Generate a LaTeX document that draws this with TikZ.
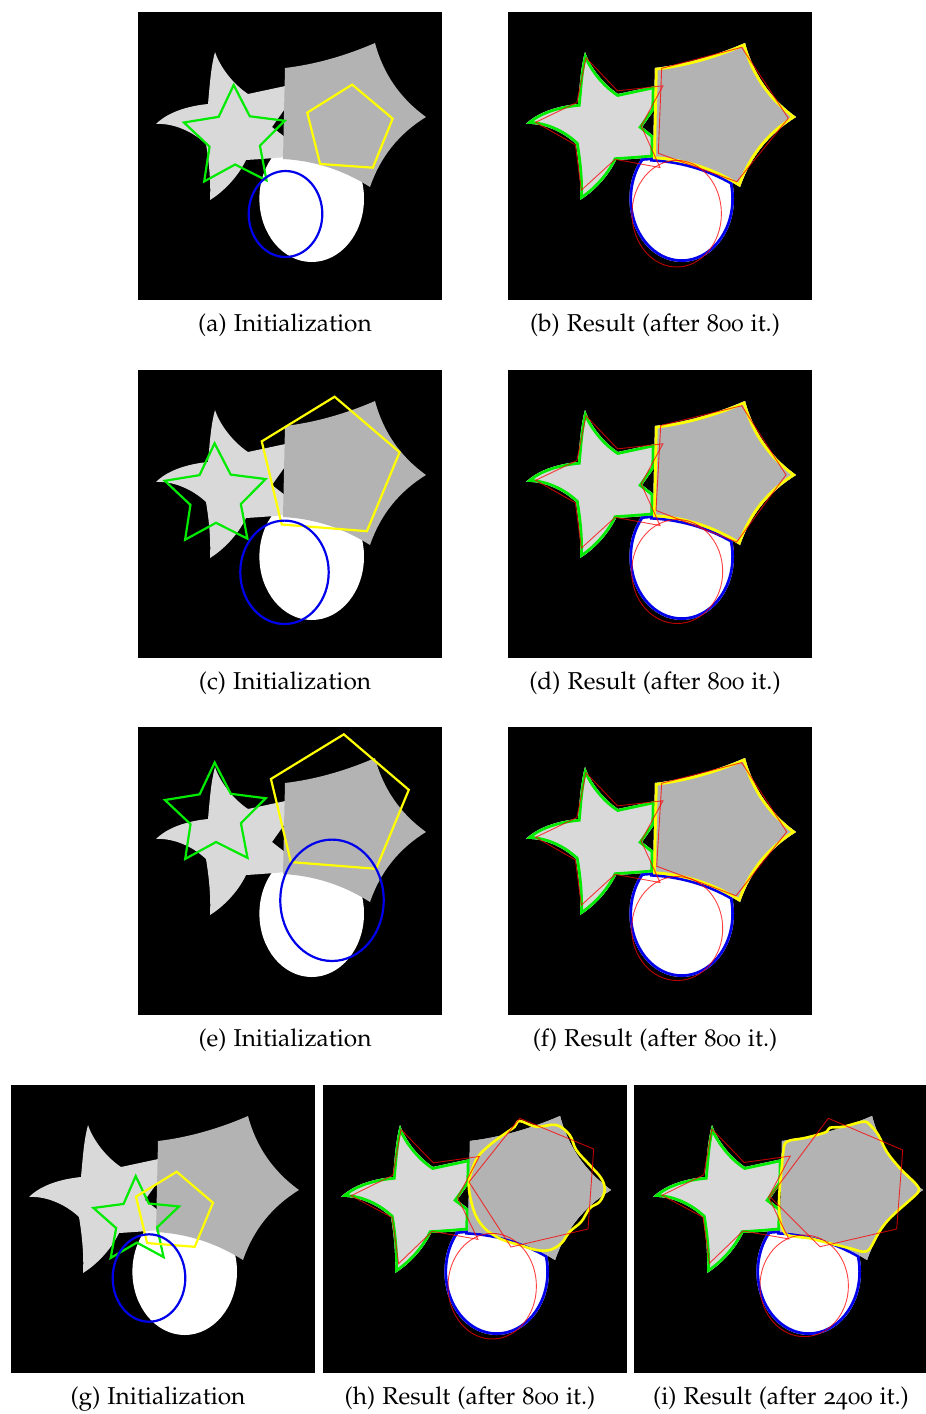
\documentclass[tikz,border=0pt]{standalone}
\usepackage[T1]{fontenc}
\usepackage[osf]{mathpazo}
\definecolor{starfill}{RGB}{217,217,217}
\definecolor{pentfill}{RGB}{179,179,179}
\definecolor{cgreen}{RGB}{0,235,0}
\definecolor{cyellow}{RGB}{255,255,0}
\definecolor{cblue}{RGB}{0,0,235}
\definecolor{cred}{RGB}{255,0,0}

% test image: twisted star, concave pentagon, white oval (pixel units, y down)
\newcommand\starpath{(77,40) .. controls (82,55) and (95,72) .. (110,82) -- (166,70) -- (134,115) -- (170,143) .. controls (150,145) and (125,147) .. (108,148) .. controls (100,165) and (85,180) .. (72,188) .. controls (73,170) and (71,150) .. (68,132) .. controls (52,117) and (32,111) .. (18,112) .. controls (30,100) and (50,94) .. (70,92) .. controls (72,70) and (73,55) .. cycle}
\newcommand\pentpath{(147,56) .. controls (177,52.4) and (207,44) .. (237,31) .. controls (245.2,61.8) and (262.2,86.4) .. (288,105) .. controls (260.9,121.6) and (242.3,145) .. (232,175) .. controls (205.4,158.1) and (176.4,148.7) .. (145,147) -- cycle}
\newcommand\ovalpath{(173.7,186.7) ellipse [x radius=52.3, y radius=63.3]}

\newcommand\scene[1][0]{%
  \fill[black] (#1,0) rectangle (304,288);
  \fill[white] \ovalpath;
  \fill[starfill] \starpath;
  \fill[pentfill] \pentpath;}

% regular star / pentagon outlines: style, cx, cy, R, (r,) rotation
\newcommand\starline[6]{\draw[#1] plot[samples at={0,1,...,9}, variable=\k]
  ({#2+ifthenelse(mod(\k,2)==0,#4,#5)*cos(#6+36*\k)},{#3-ifthenelse(mod(\k,2)==0,#4,#5)*sin(#6+36*\k)}) -- cycle;}
\newcommand\pentline[5]{\draw[#1] plot[samples at={0,1,...,4}, variable=\k]
  ({#2+#4*cos(#5+72*\k)},{#3-#4*sin(#5+72*\k)}) -- cycle;}

% segmentation contours: bands just inside each visible region
\newcommand\blueband{%
  \begin{scope}
    \clip \ovalpath;
    \draw[cblue, line width=5.5pt] \ovalpath;
    \draw[cblue, line width=5.5pt] \starpath;
    \draw[cblue, line width=5.5pt] \pentpath;
  \end{scope}
  \fill[starfill] \starpath;
  \fill[pentfill] \pentpath;}
\newcommand\greenband{%
  \begin{scope}
    \clip \starpath;
    \draw[cgreen, line width=5.5pt] \starpath;
    \draw[cgreen, line width=5.5pt] \pentpath;
  \end{scope}
  \fill[pentfill] \pentpath;}
\newcommand\yellowband{%
  \begin{scope}
    \clip \pentpath;
    \draw[cyellow, line width=5.5pt] \pentpath;
  \end{scope}}

\begin{document}
\begin{tikzpicture}[x=1pt,y=-1pt,
  redline/.style={draw=cred, draw opacity=0.75, line width=0.9pt, line join=miter},
  initline/.style={line width=2.2pt, line join=miter},
  wavy/.style={draw=cyellow, line width=2.6pt},
  captext/.style={anchor=base, inner sep=0pt, font=\fontsize{24.4}{29}\selectfont}]
\useasboundingbox (0,0) rectangle (926,1414);
\fill[white] (0,0) rectangle (926,1414);

% ---------- (a)
\begin{scope}[shift={(138,12)}]
  \scene
  \starline{initline,draw=cgreen}{96.6}{126}{53}{26.5}{91}
  \pentline{initline,draw=cyellow}{211}{117.5}{45}{86}
  \draw[initline,cblue] (147.5,202) ellipse [x radius=36.8, y radius=43];
\end{scope}
% ---------- (b)
\begin{scope}[shift={(508,12)}]
  \scene
  \blueband \greenband \yellowband
  \starline{redline}{97.2}{112.7}{69.6}{36}{106}
  \draw[redline] (153.7,56.3) -- (233.7,35.3) -- (280.3,106.3) -- (228.7,169.7) -- (150.3,141.3) -- cycle;
  \draw[redline] (168.7,201.7) ellipse [x radius=44.7, y radius=53.3];
\end{scope}
% ---------- (c)
\begin{scope}[shift={(138,370)}]
  \scene
  \starline{initline,draw=cgreen}{77.5}{126.3}{53}{26.5}{91}
  \pentline{initline,draw=cyellow}{190.9}{99.2}{72.7}{85.5}
  \draw[initline,cblue] (146.5,202.3) ellipse [x radius=44.2, y radius=51.7];
\end{scope}
% ---------- (d)
\begin{scope}[shift={(508,370)}]
  \scene
  \blueband \greenband \yellowband
  \starline{redline}{97.2}{112.7}{69.6}{36}{106}
  \draw[redline] (152.7,55.5) -- (233.7,35.7) -- (278,104.9) -- (228.7,172) -- (148,140.4) -- cycle;
  \draw[redline] (169.2,201.5) ellipse [x radius=45.5, y radius=52];
\end{scope}
% ---------- (e)
\begin{scope}[shift={(138,727)}]
  \scene
  \starline{initline,draw=cgreen}{77.6}{88.5}{53}{26.5}{91}
  \pentline{initline,draw=cyellow}{200.1}{79.8}{72.7}{85.5}
  \draw[initline,cblue] (194,173.3) ellipse [x radius=51.7, y radius=60.7];
\end{scope}
% ---------- (f)
\begin{scope}[shift={(508,727)}]
  \scene
  \blueband \greenband \yellowband
  \starline{redline}{97.2}{112.7}{69.6}{36}{106}
  \draw[redline] (153.7,56.2) -- (233.7,35.6) -- (278.7,104.8) -- (228,168.8) -- (148.7,139.2) -- cycle;
  \draw[redline] (169.2,201.5) ellipse [x radius=45.5, y radius=52];
\end{scope}
% ---------- (g)
\begin{scope}[shift={(11,1085)}]
  \scene
  \starline{initline,draw=cgreen}{125.5}{136.1}{45}{21.5}{91}
  \pentline{initline,draw=cyellow}{162.5}{127.2}{40.6}{85.5}
  \draw[initline,cblue] (138,193) ellipse [x radius=36.3, y radius=43.7];
\end{scope}
% ---------- (h)
\begin{scope}[shift={(323,1085)}]
  \scene
  \blueband \greenband
  \draw[wavy] plot[smooth cycle, tension=0.6] coordinates {(196.7,36) (213.3,41.7) (233.3,40) (246.7,50) (253.3,65) (266.7,80) (278.3,93.3) (281.7,105) (276.7,116.7) (266.7,123.3) (258.3,136.7) (246.7,146.7) (238.3,158.3) (226.7,165) (213.3,165) (196.7,160) (185,156.7) (173.3,151.7) (161.7,143.3) (153.3,131.7) (148.3,116.7) (145.7,100) (148.3,86.7) (155,71.7) (166.7,60) (180,50) (191.7,41.7)};
  \starline{redline}{98.6}{111.9}{70.5}{36}{107}
  \draw[redline] (196.7,33.3) -- (270.7,64) -- (265,144) -- (188,162) -- (146,97) -- cycle;
  \draw[redline] (169.2,201.2) ellipse [x radius=44.2, y radius=52.8];
\end{scope}
% ---------- (i), cut at the right border
\begin{scope}[shift={(635,1085)}]
  \clip (-1,0) rectangle (291,288);
  \scene[-1]
  \blueband \greenband
  \draw[wavy] plot[smooth cycle, tension=0.6] coordinates {(148.3,66.7) (151.7,56.7) (168.3,53.3) (181.7,50) (191.7,46.7) (195,42.7) (208.3,41.7) (228.3,36.7) (235,40) (243.3,50) (251.7,66.7) (265,83.3) (281.7,100) (283.3,106.7) (275,115) (261.7,126.7) (251.7,136.7) (243.3,148.3) (235,163.3) (228.3,166.7) (215,163.3) (201.7,160) (188.3,156.7) (175,153.3) (161.7,151.7) (150,148.3) (145,133.3) (144,116.7) (145,100) (146.7,83.3)};
  \starline{redline}{97.5}{111.5}{70.5}{36}{107}
  \draw[redline] (193.3,33.3) -- (267.7,65) -- (261.7,144) -- (185,161.7) -- (135,111.7) -- cycle;
  \draw[redline] (169.2,200.8) ellipse [x radius=44.2, y radius=50.8];
\end{scope}

% ---------- captions
\node[captext] (capa) at (285,331.5) {(a) Initialization};
\node[captext] (capb) at (655,331.5) {(b) Result (after 800 it.)};
\node[captext] (capc) at (285,689.5) {(c) Initialization};
\node[captext] (capd) at (655,689.5) {(d) Result (after 800 it.)};
\node[captext] (cape) at (285,1046.5) {(e) Initialization};
\node[captext] (capf) at (655,1046.5) {(f) Result (after 800 it.)};
\node[captext] (capg) at (158,1404.5) {(g) Initialization};
\node[captext] (caph) at (470,1404.5) {(h) Result (after 800 it.)};
\node[captext] (capi) at (781,1404.5) {(i) Result (after 2400 it.)};
\end{tikzpicture}
\end{document}
